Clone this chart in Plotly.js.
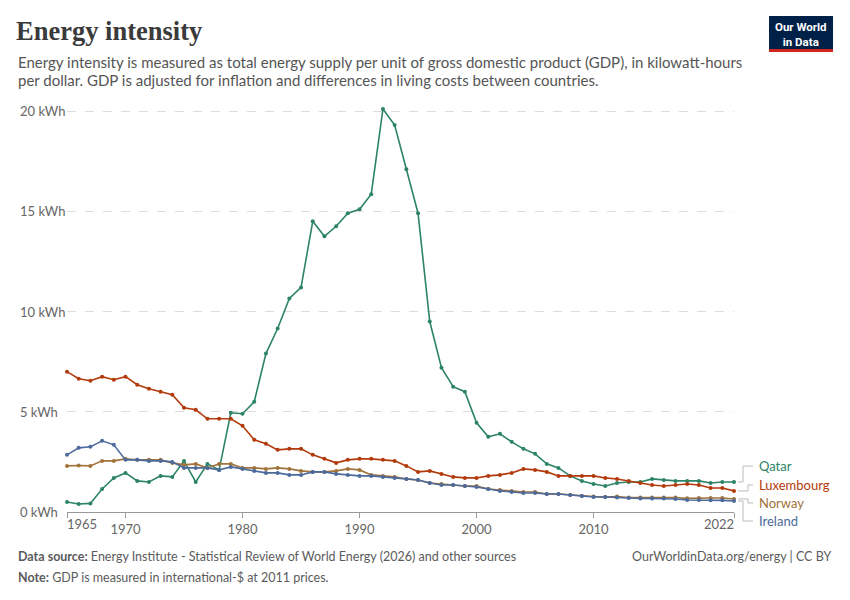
<!DOCTYPE html>
<html>
<head>
<meta charset="utf-8">
<script src="https://cdn.plot.ly/plotly-3.0.1.min.js"></script>
<style>html,body{margin:0;padding:0;background:#fff;}#chart{width:850px;height:600px;}</style>
</head>
<body>
<div id="chart"></div>
<script>
const years = [];
for (let y = 1965; y <= 2022; y++) years.push(y);

const qatar = [0.5,0.4,0.43,1.15,1.7,1.95,1.55,1.5,1.8,1.75,2.55,1.5,2.4,2.1,4.95,4.9,5.5,7.9,9.15,10.65,11.2,14.5,13.75,14.25,14.9,15.1,15.85,20.1,19.3,17.1,14.9,9.5,7.2,6.25,6.0,4.45,3.75,3.9,3.5,3.15,2.9,2.4,2.2,1.8,1.55,1.4,1.3,1.45,1.5,1.5,1.65,1.6,1.55,1.55,1.55,1.45,1.5,1.5];
const luxembourg = [7.0,6.65,6.55,6.75,6.6,6.75,6.35,6.15,6.0,5.85,5.2,5.1,4.65,4.65,4.65,4.3,3.6,3.4,3.1,3.15,3.15,2.85,2.65,2.45,2.6,2.65,2.65,2.6,2.55,2.3,2.0,2.05,1.9,1.75,1.7,1.7,1.8,1.85,1.95,2.15,2.1,2.0,1.8,1.8,1.8,1.8,1.7,1.65,1.55,1.45,1.35,1.3,1.35,1.4,1.35,1.2,1.2,1.05];
const norway = [2.3,2.32,2.3,2.55,2.55,2.65,2.6,2.6,2.6,2.45,2.35,2.4,2.2,2.4,2.4,2.2,2.2,2.15,2.2,2.15,2.05,2.0,2.0,2.05,2.15,2.1,1.85,1.8,1.75,1.65,1.6,1.45,1.4,1.35,1.3,1.3,1.15,1.1,1.05,1.0,1.0,0.9,0.9,0.85,0.8,0.77,0.75,0.77,0.72,0.72,0.72,0.72,0.72,0.68,0.7,0.7,0.7,0.65];
const ireland = [2.85,3.2,3.25,3.55,3.35,2.6,2.6,2.55,2.55,2.5,2.2,2.2,2.2,2.1,2.25,2.15,2.05,1.95,1.95,1.85,1.85,2.0,2.0,1.9,1.85,1.8,1.8,1.75,1.7,1.65,1.6,1.45,1.35,1.35,1.3,1.25,1.15,1.05,1.0,0.95,0.95,0.9,0.9,0.85,0.8,0.75,0.75,0.72,0.7,0.67,0.67,0.67,0.65,0.6,0.6,0.58,0.58,0.55];

const seriesNames = ["Qatar","Luxembourg","Norway","Ireland"];
const seriesData = [qatar, luxembourg, norway, ireland];
const seriesColors = ["#2c8465","#b33a0c","#a2733b","#4c6a9c"];
const labelY = [2.29, 1.35, 0.45, -0.45];
const elbowX = [1.0135, 1.021, 1.021, 1.0135];

const xTicks = [1965,1970,1980,1990,2000,2010,2022];
const yTicks = [0,5,10,15,20];
const yTickText = ["0 kWh","5 kWh","10 kWh","15 kWh","20 kWh"];
const yMax = 20.4;

const traces = seriesData.map((d,i) => ({
  x: years, y: d, type: "scatter", mode: "lines+markers", name: seriesNames[i],
  line: {color: seriesColors[i], width: 1.6},
  marker: {color: seriesColors[i], size: 4},
  cliponaxis: false, hoverinfo: "skip"
}));

const annotations = [];
const shapes = [];
yTicks.forEach((v,i) => annotations.push({
  xref: "paper", yref: "y", x: -49/667, y: v, xanchor: "left", yanchor: "middle",
  text: yTickText[i], showarrow: false, font: {family: "Lato", size: 13, color: "#666"}
}));
annotations.push(
  {xref: "x", yref: "paper", x: xTicks[0], y: -12/409, xanchor: "left", yanchor: "middle", xshift: -2,
   text: String(xTicks[0]), showarrow: false, font: {family: "Lato", size: 13, color: "#666"}},
  {xref: "x", yref: "paper", x: xTicks[xTicks.length-1], y: -12/409, xanchor: "right", yanchor: "middle", xshift: 2,
   text: String(xTicks[xTicks.length-1]), showarrow: false, font: {family: "Lato", size: 13, color: "#666"}}
);
seriesNames.forEach((n,i) => {
  const last = seriesData[i][seriesData[i].length-1] / yMax;
  const ly = labelY[i] / yMax;
  annotations.push({xref: "paper", yref: "paper", x: 1.035, y: ly, xanchor: "left", yanchor: "middle",
    text: n, showarrow: false, font: {family: "Lato", size: 13, color: seriesColors[i]}});
  shapes.push({type: "path", xref: "paper", yref: "paper",
    path: `M 1.006 ${last} L ${elbowX[i]} ${last} L ${elbowX[i]} ${ly} L 1.0285 ${ly}`,
    line: {color: "#bbb", width: 1}});
});

annotations.push(
  {xref: "paper", yref: "paper", x: -51/667, y: 1+(103-62)/409, xanchor: "left", yanchor: "middle", showarrow: false, align: "left",
   text: "Energy intensity is measured as total energy supply per unit of gross domestic product (GDP), in kilowatt-hours", font: {family: "Lato", size: 15, color: "#555"}},
  {xref: "paper", yref: "paper", x: -51/667, y: 1+(103-80)/409, xanchor: "left", yanchor: "middle", showarrow: false, align: "left",
   text: "per dollar. GDP is adjusted for inflation and differences in living costs between countries.", font: {family: "Lato", size: 15, color: "#555"}},
  {xref: "paper", yref: "paper", x: -51/667, y: -(556-512)/409, xanchor: "left", yanchor: "middle", showarrow: false,
   text: "<b>Data source:</b> Energy Institute - Statistical Review of World Energy (2026) and other sources", font: {family: "Lato", size: 12.5, color: "#5b5b5b"}},
  {xref: "paper", yref: "paper", x: -51/667, y: -(577-512)/409, xanchor: "left", yanchor: "middle", showarrow: false,
   text: "<b>Note:</b> GDP is measured in international-$ at 2011 prices.", font: {family: "Lato", size: 12.5, color: "#5b5b5b"}},
  {xref: "paper", yref: "paper", x: 1+(833-734)/667, y: -(556-512)/409, xanchor: "right", yanchor: "middle", showarrow: false,
   text: "OurWorldinData.org/energy | CC BY", font: {family: "Lato", size: 12.5, color: "#5b5b5b"}},
  {xref: "paper", yref: "paper", x: 1+(801-734)/667, y: 1+(103-34)/409, xanchor: "center", yanchor: "middle", showarrow: false,
   text: "<b>Our World<br>in Data</b>", font: {family: "Roboto", size: 11.5, color: "#fff"}}
);
shapes.push(
  {type: "rect", xref: "paper", yref: "paper", x0: 1+(769-734)/667, x1: 1+(833-734)/667, y0: 1+(103-52)/409, y1: 1+(103-16)/409,
   fillcolor: "#002147", line: {width: 0}},
  {type: "rect", xref: "paper", yref: "paper", x0: 1+(769-734)/667, x1: 1+(833-734)/667, y0: 1+(103-52)/409, y1: 1+(103-49)/409,
   fillcolor: "#ce261e", line: {width: 0}}
);

const layout = {
  width: 850, height: 600,
  margin: {l: 67, r: 116, t: 103, b: 88},
  paper_bgcolor: "#fff", plot_bgcolor: "#fff",
  showlegend: false,
  title: {text: "Energy intensity", x: 16/850, xanchor: "left", y: 1-31/600, yanchor: "middle", yref: "container",
          font: {family: "Liberation Serif", size: 26.5, color: "#3a3a3a", weight: 600}},
  xaxis: {range: [1965, 2022], tickvals: xTicks, ticktext: xTicks.map((t,i) => (i===0 || i===xTicks.length-1) ? "" : String(t)),
          showgrid: false, zeroline: false,
          showline: true, linecolor: "#999", linewidth: 1, ticks: "outside", ticklen: 5, tickcolor: "#999",
          tickfont: {family: "Lato", size: 13, color: "#666"}, fixedrange: true},
  yaxis: {range: [0, yMax], tickvals: yTicks, showticklabels: false, showgrid: true, gridcolor: "#ddd", griddash: "dash",
          gridwidth: 1, zeroline: false, ticks: "", fixedrange: true},
  annotations: annotations,
  shapes: shapes
};

Plotly.newPlot("chart", traces, layout, {displayModeBar: false, staticPlot: true});
</script>
</body>
</html>
